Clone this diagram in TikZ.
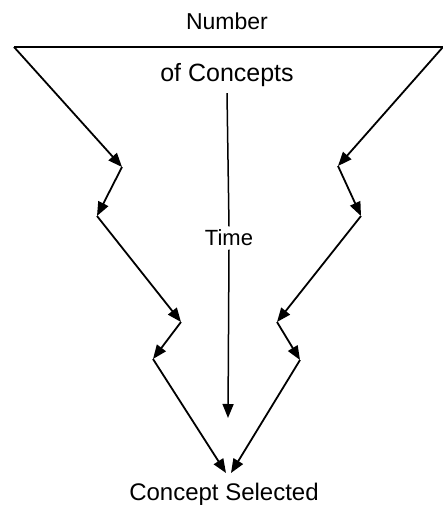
\documentclass[tikz,border=0pt]{standalone}
\usepackage{fontspec}
\setmainfont{Liberation Sans}
\usetikzlibrary{arrows.meta}
\begin{document}
\begin{tikzpicture}[x=1pt,y=-1pt,
	flow/.style={line width=1.8pt,-{Triangle[length=14pt,width=11pt]}},
	txt/.style={font=\fontsize{23}{27}\selectfont}]
	\useasboundingbox (0,0) rectangle (443,514);
	% texts
	\node [txt] (num) at (227,21) {Number};
	\node [txt,font=\fontsize{25}{29}\selectfont] (ofc) at (227,75) {of Concepts};
	\node [txt,font=\fontsize{22}{26}\selectfont] (time) at (229,238) {Time};
	\node [txt,font=\fontsize{24}{28}\selectfont] (sel) at (224,494) {Concept Selected};
	% corners of the funnel
	\coordinate (tl) at (14,47);
	\coordinate (tr) at (443,47);
	\coordinate (l1) at (122,167);
	\coordinate (l2) at (97,216);
	\coordinate (l3) at (181,322);
	\coordinate (l4) at (153,359);
	\coordinate (lb) at (226,473);
	\coordinate (r1) at (338,166);
	\coordinate (r2) at (361,216);
	\coordinate (r3) at (277,322);
	\coordinate (r4) at (300,360);
	\coordinate (rb) at (231,473);
	\coordinate (tend) at (228,418);
	\draw [line width=1.8pt] (tl) -- (tr);
	% left side
	\draw [flow] (tl) -- (l1);
	\draw [flow] (l1) -- (l2);
	\draw [flow] (l2) -- (l3);
	\draw [flow] (l3) -- (l4);
	\draw [flow] (l4) -- (lb);
	% right side
	\draw [flow] (tr) -- (r1);
	\draw [flow] (r1) -- (r2);
	\draw [flow] (r2) -- (r3);
	\draw [flow] (r3) -- (r4);
	\draw [flow] (r4) -- (rb);
	% time axis
	\draw [line width=1.5pt] ([yshift=-3pt]ofc.south) -- (time.north);
	\draw [flow,line width=1.5pt] (time.south) -- (tend);
\end{tikzpicture}
\end{document}
